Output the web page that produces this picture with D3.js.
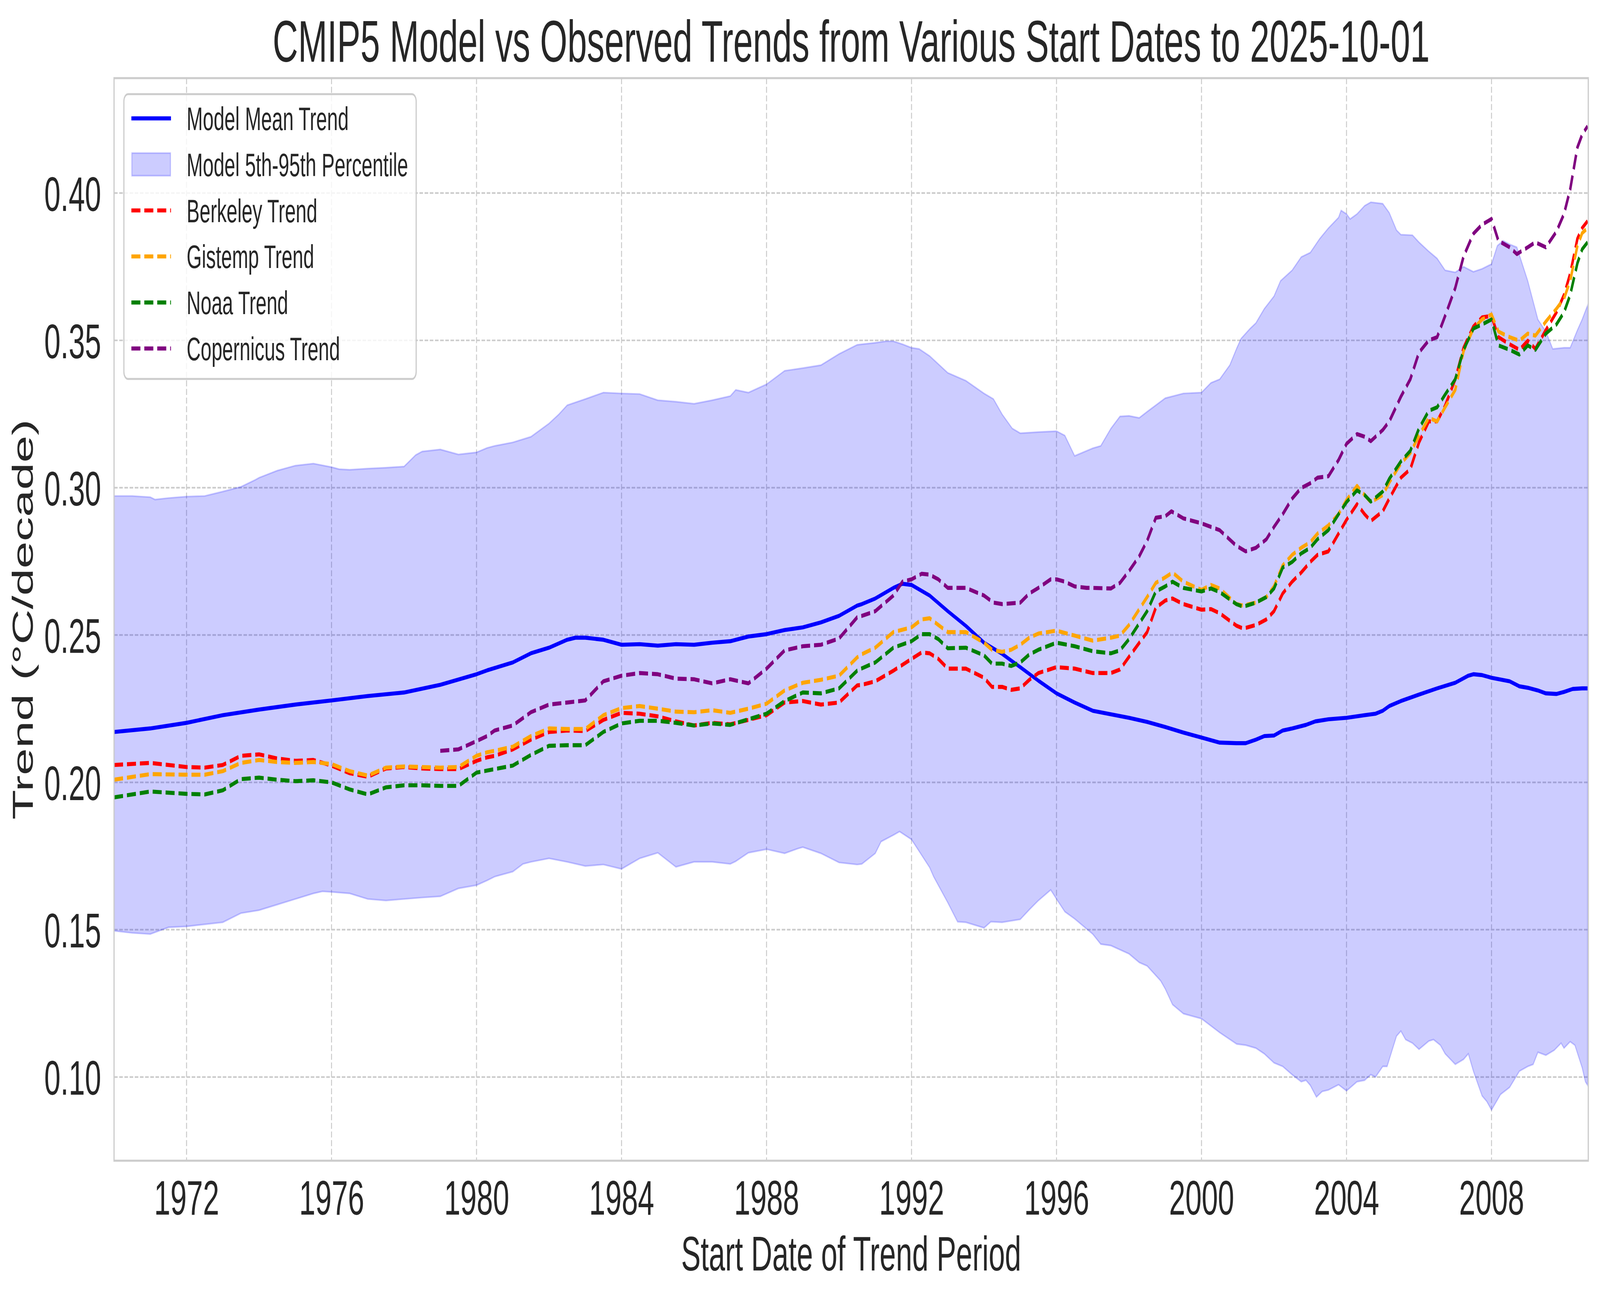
<!DOCTYPE html>
<html>
<head>
<meta charset="utf-8">
<script src="https://cdn.jsdelivr.net/npm/d3@7"></script>
<style>
  html, body { margin: 0; padding: 0; background: #ffffff; overflow: hidden; }
  svg { display: block; width: 100vw; height: 100vh; }
  text { font-family: "Liberation Sans", Arial, sans-serif; fill: #262626; }
</style>
</head>
<body>
<div id="chart"></div>
<script>
// Trend values (degC / decade)

// shared start dates for Berkeley, Gistemp and Noaa
var obsYears = [
  1970.00, 1971.00, 1972.00, 1972.50, 1973.00, 1973.50, 1974.00, 1974.50, 1975.00, 1975.50,
  1976.00, 1976.50, 1977.00, 1977.50, 1978.00, 1978.50, 1979.00, 1979.50, 1980.00, 1980.29,
  1980.50, 1981.00, 1981.50, 1982.00, 1982.50, 1983.00, 1983.50, 1984.00, 1984.50, 1985.00,
  1985.50, 1986.00, 1986.50, 1987.00, 1987.50, 1988.00, 1988.50, 1989.00, 1989.50, 1990.00,
  1990.50,
  1990.63, 1991.00, 1991.50, 1992.00, 1992.28, 1992.50, 1992.74, 1993.00, 1993.50, 1994.00,
  1994.22, 1994.50, 1994.75, 1995.00, 1995.25, 1995.50, 1996.00, 1996.50, 1997.00, 1997.50,
  1997.75, 1998.00, 1998.50, 1998.74, 1999.00, 1999.20, 1999.50, 2000.00, 2000.26, 2000.50,
  2000.96, 2001.15, 2001.50, 2001.79, 2002.00, 2002.24, 2002.50, 2002.75, 2003.00, 2003.20,
  2003.50, 2003.78, 2004.00, 2004.29, 2004.50, 2004.67, 2005.00, 2005.18, 2005.50, 2005.76,
  2006.00, 2006.27, 2006.50, 2006.72, 2007.00, 2007.23, 2007.50, 2007.74, 2008.00, 2008.19,
  2008.50, 2008.77, 2009.00, 2009.21, 2009.50, 2009.79, 2010.00, 2010.17, 2010.37, 2010.50,
  2010.65
];

var berkeleyTrend = [
  0.2059, 0.2066, 0.2052, 0.2050, 0.2059, 0.2090, 0.2095, 0.2081, 0.2073, 0.2076,
  0.2057, 0.2031, 0.2019, 0.2047, 0.2052, 0.2047, 0.2045, 0.2045, 0.2073, 0.2085,
  0.2090, 0.2112, 0.2145, 0.2171, 0.2176, 0.2174, 0.2212, 0.2236, 0.2233, 0.2224,
  0.2207, 0.2193, 0.2202, 0.2197, 0.2212, 0.2228, 0.2271, 0.2276, 0.2264, 0.2271,
  0.2329,
  0.2331, 0.2343, 0.2379, 0.2419, 0.2441, 0.2438, 0.2419, 0.2386, 0.2386, 0.2355,
  0.2324, 0.2324, 0.2314, 0.2319, 0.2348, 0.2371, 0.2391, 0.2386, 0.2371, 0.2371,
  0.2383, 0.2426, 0.2510, 0.2593, 0.2617, 0.2624, 0.2605, 0.2586, 0.2588, 0.2574,
  0.2532, 0.2522, 0.2534, 0.2553, 0.2581, 0.2641, 0.2681, 0.2712, 0.2748, 0.2772,
  0.2784, 0.2844, 0.2891, 0.2944, 0.2910, 0.2887, 0.2920, 0.2963, 0.3034, 0.3063,
  0.3154, 0.3225, 0.3225, 0.3278, 0.3368, 0.3475, 0.3547, 0.3578, 0.3583, 0.3511,
  0.3487, 0.3468, 0.3499, 0.3471, 0.3535, 0.3595, 0.3654, 0.3726, 0.3845, 0.3881,
  0.3905
];

var gistempTrend = [
  0.2009, 0.2028, 0.2026, 0.2026, 0.2038, 0.2066, 0.2076, 0.2069, 0.2066, 0.2069,
  0.2062, 0.2038, 0.2023, 0.2050, 0.2054, 0.2052, 0.2050, 0.2052, 0.2090, 0.2102,
  0.2107, 0.2121, 0.2157, 0.2183, 0.2181, 0.2181, 0.2228, 0.2252, 0.2259, 0.2250,
  0.2240, 0.2238, 0.2245, 0.2236, 0.2250, 0.2267, 0.2312, 0.2338, 0.2348, 0.2362,
  0.2424,
  0.2435, 0.2457, 0.2510, 0.2526, 0.2553, 0.2557, 0.2534, 0.2510, 0.2510, 0.2474,
  0.2450, 0.2443, 0.2450, 0.2467, 0.2491, 0.2505, 0.2515, 0.2498, 0.2481, 0.2491,
  0.2498, 0.2534, 0.2629, 0.2677, 0.2696, 0.2712, 0.2681, 0.2653, 0.2670, 0.2658,
  0.2605, 0.2600, 0.2610, 0.2629, 0.2665, 0.2736, 0.2772, 0.2796, 0.2815, 0.2844,
  0.2872, 0.2910, 0.2958, 0.3006, 0.2975, 0.2951, 0.2975, 0.3018, 0.3082, 0.3118,
  0.3177, 0.3237, 0.3225, 0.3273, 0.3332, 0.3464, 0.3540, 0.3571, 0.3588, 0.3530,
  0.3511, 0.3499, 0.3523, 0.3516, 0.3564, 0.3607, 0.3642, 0.3702, 0.3821, 0.3864,
  0.3881
];

var noaaTrend = [
  0.1949, 0.1969, 0.1961, 0.1959, 0.1973, 0.2011, 0.2016, 0.2009, 0.2004, 0.2007,
  0.2000, 0.1976, 0.1959, 0.1983, 0.1990, 0.1990, 0.1988, 0.1988, 0.2033, 0.2040,
  0.2045, 0.2057, 0.2093, 0.2124, 0.2126, 0.2126, 0.2171, 0.2200, 0.2209, 0.2209,
  0.2202, 0.2193, 0.2200, 0.2195, 0.2214, 0.2233, 0.2276, 0.2305, 0.2302, 0.2319,
  0.2379,
  0.2387, 0.2407, 0.2457, 0.2479, 0.2503, 0.2503, 0.2486, 0.2455, 0.2457, 0.2431,
  0.2403, 0.2403, 0.2395, 0.2407, 0.2434, 0.2450, 0.2474, 0.2462, 0.2445, 0.2438,
  0.2448, 0.2486, 0.2581, 0.2648, 0.2665, 0.2681, 0.2660, 0.2648, 0.2658, 0.2646,
  0.2605, 0.2596, 0.2610, 0.2629, 0.2658, 0.2729, 0.2748, 0.2777, 0.2796, 0.2825,
  0.2856, 0.2910, 0.2951, 0.2991, 0.2975, 0.2953, 0.2987, 0.3030, 0.3089, 0.3125,
  0.3201, 0.3261, 0.3273, 0.3316, 0.3368, 0.3468, 0.3540, 0.3554, 0.3571, 0.3483,
  0.3468, 0.3452, 0.3483, 0.3468, 0.3523, 0.3554, 0.3595, 0.3654, 0.3762, 0.3809,
  0.3833
];

// Copernicus only starts in 1979
var copernicusYears = [
  1979.00, 1979.50, 1980.00, 1980.29, 1980.50, 1981.00, 1981.50, 1982.00, 1982.50, 1983.00,
  1983.50, 1984.00, 1984.50, 1985.00, 1985.50, 1986.00, 1986.50, 1987.00, 1987.50, 1988.00,
  1988.50, 1989.00, 1989.50, 1990.00, 1990.50, 1990.63,
  1991.00, 1991.50, 1991.75, 1992.00, 1992.28, 1992.50, 1992.74, 1993.00, 1993.50, 1994.00,
  1994.26, 1994.50, 1995.00, 1995.25, 1995.50, 1995.84, 1996.00, 1996.23, 1996.50, 1996.83,
  1997.00, 1997.50, 1997.75, 1998.00, 1998.28, 1998.50, 1998.74, 1999.00, 1999.17, 1999.50,
  2000.00, 2000.26, 2000.50, 2000.96,
  2001.22, 2001.50, 2001.79, 2002.00, 2002.24, 2002.50, 2002.75, 2003.00, 2003.20, 2003.50,
  2003.78, 2004.00, 2004.29, 2004.50, 2004.67, 2005.00, 2005.18, 2005.50, 2005.76, 2006.00,
  2006.27, 2006.50, 2006.72, 2007.00, 2007.23, 2007.50, 2007.74, 2008.00, 2008.19, 2008.50,
  2008.70, 2009.00, 2009.21, 2009.50, 2009.79, 2010.00, 2010.17, 2010.37, 2010.50, 2010.65
];
var copernicusTrend = [
  0.2107, 0.2112, 0.2140, 0.2157, 0.2176, 0.2193, 0.2238, 0.2264, 0.2271, 0.2278,
  0.2343, 0.2362, 0.2371, 0.2367, 0.2352, 0.2350, 0.2336, 0.2350, 0.2336, 0.2386,
  0.2448, 0.2462, 0.2467, 0.2488, 0.2560, 0.2565,
  0.2581, 0.2634, 0.2681, 0.2689, 0.2708, 0.2705, 0.2689, 0.2660, 0.2660, 0.2634,
  0.2610, 0.2605, 0.2610, 0.2641, 0.2660, 0.2689, 0.2689, 0.2681, 0.2665, 0.2660,
  0.2660, 0.2658, 0.2677, 0.2717, 0.2767, 0.2820, 0.2898, 0.2903, 0.2920, 0.2896,
  0.2879, 0.2867, 0.2856, 0.2803,
  0.2784, 0.2796, 0.2825, 0.2867, 0.2910, 0.2963, 0.2999, 0.3015, 0.3034, 0.3039,
  0.3094, 0.3149, 0.3182, 0.3173, 0.3158, 0.3196, 0.3225, 0.3309, 0.3368, 0.3459,
  0.3500, 0.3511, 0.3583, 0.3678, 0.3785, 0.3862, 0.3893, 0.3912, 0.3838, 0.3816,
  0.3793, 0.3816, 0.3833, 0.3816, 0.3869, 0.3929, 0.4012, 0.4155, 0.4198, 0.4227
];

// CMIP5 multi-model mean
var meanYears = [
  1970.00, 1971.00, 1972.00, 1973.00, 1974.00, 1975.00, 1976.00, 1977.00, 1978.00, 1979.00,
  1980.00, 1980.29, 1980.50, 1981.00, 1981.50, 1982.00, 1982.50, 1982.73, 1983.00, 1983.50,
  1984.00, 1984.50, 1985.00, 1985.50, 1986.00, 1986.50, 1987.00, 1987.50, 1988.00, 1988.50,
  1989.00, 1989.50, 1990.00, 1990.50, 1990.63,
  1991.00, 1991.50, 1991.75, 1992.00, 1992.50, 1993.00, 1993.50, 1994.00, 1994.50, 1995.00,
  1995.50, 1996.00, 1996.50, 1997.00, 1997.50, 1998.00, 1998.50, 1999.00, 1999.50, 2000.00,
  2000.50, 2000.96,
  2001.22, 2001.50, 2001.73, 2002.00, 2002.24, 2002.50, 2002.88, 2003.14, 2003.50, 2004.00,
  2004.50, 2004.80, 2005.00, 2005.18, 2005.50, 2006.00, 2006.50, 2007.00, 2007.36, 2007.50,
  2007.74, 2008.00, 2008.50, 2008.77, 2009.00, 2009.28, 2009.50, 2009.79, 2010.00, 2010.24,
  2010.50, 2010.65
];
var meanTrend = [
  0.2171, 0.2183, 0.2202, 0.2228, 0.2247, 0.2264, 0.2278, 0.2293, 0.2305, 0.2331,
  0.2367, 0.2380, 0.2388, 0.2407, 0.2438, 0.2457, 0.2484, 0.2491, 0.2491, 0.2484,
  0.2467, 0.2469, 0.2464, 0.2469, 0.2467, 0.2474, 0.2479, 0.2495, 0.2503, 0.2517,
  0.2526, 0.2543, 0.2565, 0.2600, 0.2605,
  0.2624, 0.2660, 0.2674, 0.2670, 0.2634, 0.2581, 0.2531, 0.2474, 0.2436, 0.2391,
  0.2345, 0.2302, 0.2271, 0.2243, 0.2231, 0.2219, 0.2205, 0.2188, 0.2169, 0.2152,
  0.2135, 0.2133,
  0.2133, 0.2145, 0.2157, 0.2159, 0.2176, 0.2183, 0.2195, 0.2207, 0.2214, 0.2219,
  0.2228, 0.2233, 0.2243, 0.2259, 0.2276, 0.2298, 0.2319, 0.2338, 0.2362, 0.2367,
  0.2364, 0.2355, 0.2343, 0.2326, 0.2321, 0.2312, 0.2302, 0.2300, 0.2307, 0.2317,
  0.2319, 0.2319
];

// 95th percentile of the model ensemble
var p95Years = [
  1970.00, 1970.50, 1971.00, 1971.13, 1971.50, 1972.00, 1972.50, 1973.00, 1973.50, 1973.90,
  1974.00, 1974.50, 1975.00, 1975.50, 1976.00, 1976.21, 1976.50, 1977.00, 1977.50, 1978.00,
  1978.32, 1978.50, 1979.00, 1979.50, 1980.00, 1980.29,
  1980.50, 1981.00, 1981.50, 1982.00, 1982.27, 1982.50, 1983.00, 1983.50, 1984.00, 1984.50,
  1985.00, 1985.50, 1986.00, 1986.50, 1987.00, 1987.15, 1987.50, 1988.00, 1988.50, 1989.00,
  1989.50, 1990.00, 1990.50, 1990.63,
  1991.00, 1991.29, 1991.50, 1991.75, 1992.00, 1992.21, 1992.50, 1993.00, 1993.50, 1994.00,
  1994.26, 1994.50, 1994.78, 1995.00, 1995.50, 1996.00, 1996.23, 1996.50, 1997.00, 1997.22,
  1997.50, 1997.75, 1998.00, 1998.28, 1998.50, 1999.00, 1999.50, 2000.00, 2000.26, 2000.50,
  2000.78, 2000.97,
  2001.09, 2001.34, 2001.50, 2001.73, 2002.00, 2002.18, 2002.50, 2002.75, 2003.00, 2003.26,
  2003.50, 2003.78, 2003.85, 2004.00, 2004.10, 2004.29, 2004.50, 2004.67, 2005.00, 2005.18,
  2005.38, 2005.50, 2005.82, 2006.00, 2006.27, 2006.50, 2006.72, 2007.00, 2007.23, 2007.50,
  2007.74, 2008.00, 2008.16, 2008.32, 2008.50, 2008.70, 2009.00, 2009.28, 2009.50, 2009.69,
  2010.00, 2010.17, 2010.37, 2010.50, 2010.65
];
var p95Trend = [
  0.2972, 0.2972, 0.2968, 0.2960, 0.2965, 0.2970, 0.2972, 0.2987, 0.3003, 0.3027,
  0.3034, 0.3058, 0.3075, 0.3082, 0.3070, 0.3063, 0.3061, 0.3065, 0.3068, 0.3072,
  0.3111, 0.3123, 0.3130, 0.3113, 0.3120, 0.3135,
  0.3142, 0.3154, 0.3173, 0.3218, 0.3249, 0.3280, 0.3301, 0.3323, 0.3320, 0.3318,
  0.3297, 0.3292, 0.3285, 0.3297, 0.3311, 0.3332, 0.3323, 0.3351, 0.3397, 0.3406,
  0.3416, 0.3454, 0.3485, 0.3487,
  0.3492, 0.3497, 0.3497, 0.3487, 0.3475, 0.3471, 0.3447, 0.3390, 0.3363, 0.3320,
  0.3301, 0.3249, 0.3201, 0.3185, 0.3189, 0.3192, 0.3177, 0.3108, 0.3134, 0.3142,
  0.3201, 0.3242, 0.3244, 0.3237, 0.3258, 0.3304, 0.3320, 0.3323, 0.3356, 0.3368,
  0.3416, 0.3473,
  0.3506, 0.3540, 0.3559, 0.3607, 0.3650, 0.3702, 0.3738, 0.3783, 0.3798, 0.3845,
  0.3881, 0.3917, 0.3941, 0.3929, 0.3912, 0.3929, 0.3957, 0.3969, 0.3964, 0.3933,
  0.3874, 0.3859, 0.3857, 0.3833, 0.3802, 0.3778, 0.3738, 0.3731, 0.3750, 0.3733,
  0.3743, 0.3759, 0.3821, 0.3838, 0.3826, 0.3816, 0.3702, 0.3571, 0.3530, 0.3471,
  0.3475, 0.3475, 0.3535, 0.3571, 0.3619
];

// 5th percentile of the model ensemble
var p5Years = [
  1970.00, 1970.50, 1971.00, 1971.50, 1972.00, 1972.50, 1973.00, 1973.50, 1974.00, 1974.50,
  1975.00, 1975.50, 1975.75, 1976.00, 1976.50, 1977.00, 1977.50, 1978.00, 1978.50, 1979.00,
  1979.50, 1980.00, 1980.29,
  1980.50, 1981.00, 1981.28, 1981.50, 1982.00, 1982.50, 1983.00, 1983.50, 1984.00, 1984.50,
  1985.00, 1985.50, 1986.00, 1986.50, 1987.00, 1987.15, 1987.50, 1988.00, 1988.50, 1988.86,
  1989.00, 1989.50, 1990.00, 1990.50, 1990.63,
  1991.00, 1991.16, 1991.50, 1991.67, 1992.00, 1992.50, 1992.61, 1993.00, 1993.27, 1993.50,
  1994.00, 1994.19, 1994.50, 1995.00, 1995.25, 1995.50, 1995.84, 1996.00, 1996.23, 1996.50,
  1997.00, 1997.22, 1997.50, 1998.00, 1998.28, 1998.50, 1998.87, 1999.00, 1999.20, 1999.50,
  2000.00, 2000.50, 2000.97,
  2001.22, 2001.50, 2001.73, 2002.00, 2002.24, 2002.50, 2002.75, 2002.88, 2003.00, 2003.17,
  2003.33, 2003.50, 2003.78, 2004.00, 2004.29, 2004.50, 2004.67, 2004.80, 2005.00, 2005.12,
  2005.38, 2005.50, 2005.63, 2005.82, 2006.00, 2006.27, 2006.40, 2006.59, 2006.72, 2007.00,
  2007.23, 2007.36, 2007.50, 2007.74, 2007.87, 2008.00, 2008.25, 2008.50, 2008.77, 2009.00,
  2009.15, 2009.28, 2009.50, 2009.73, 2009.92, 2010.00, 2010.17, 2010.30, 2010.50, 2010.59,
  2010.65
];
var p5Trend = [
  0.1496, 0.1489, 0.1485, 0.1508, 0.1511, 0.1518, 0.1525, 0.1556, 0.1566, 0.1585,
  0.1604, 0.1623, 0.1630, 0.1628, 0.1623, 0.1604, 0.1599, 0.1604, 0.1609, 0.1613,
  0.1640, 0.1651, 0.1667,
  0.1680, 0.1697, 0.1723, 0.1730, 0.1742, 0.1730, 0.1716, 0.1721, 0.1706, 0.1742,
  0.1761, 0.1713, 0.1730, 0.1730, 0.1723, 0.1732, 0.1761, 0.1773, 0.1759, 0.1775,
  0.1780, 0.1759, 0.1728, 0.1721, 0.1723,
  0.1759, 0.1799, 0.1821, 0.1833, 0.1806, 0.1711, 0.1680, 0.1592, 0.1527, 0.1525,
  0.1506, 0.1527, 0.1525, 0.1535, 0.1568, 0.1599, 0.1635, 0.1604, 0.1561, 0.1537,
  0.1485, 0.1451, 0.1446, 0.1418, 0.1389, 0.1377, 0.1327, 0.1299, 0.1246, 0.1215,
  0.1198, 0.1151, 0.1112,
  0.1108, 0.1098, 0.1079, 0.1048, 0.1036, 0.1008, 0.0984, 0.0989, 0.0972, 0.0932,
  0.0951, 0.0956, 0.0974, 0.0953, 0.0984, 0.0989, 0.1008, 0.1000, 0.1036, 0.1036,
  0.1139, 0.1156, 0.1127, 0.1115, 0.1094, 0.1122, 0.1127, 0.1108, 0.1079, 0.1043,
  0.1060, 0.1079, 0.1020, 0.0936, 0.0917, 0.0888, 0.0941, 0.0965, 0.1020, 0.1036,
  0.1043, 0.1084, 0.1074, 0.1091, 0.1115, 0.1098, 0.1120, 0.1108, 0.1032, 0.0984,
  0.0972
];

var xTicks = [1972, 1976, 1980, 1984, 1988, 1992, 1996, 2000, 2004, 2008];
var yTicks = [0.10, 0.15, 0.20, 0.25, 0.30, 0.35, 0.40];
var legendLabels = ["Model Mean Trend", "Model 5th-95th Percentile", "Berkeley Trend",
  "Gistemp Trend", "Noaa Trend", "Copernicus Trend"];

// Define SVG area dimensions (drawing units = reference pixels)
var svgWidth = 6832;
var svgHeight = 3325;

var margin = { top: 200, right: 50, bottom: 354, left: 487 };
var chartWidth = svgWidth - margin.left - margin.right;
var chartHeight = svgHeight - margin.top - margin.bottom;

// the drawing is stretched onto the whole browser window
var svg = d3.select("#chart")
  .append("svg")
  .attr("viewBox", "0 0 " + svgWidth + " " + svgHeight)
  .attr("preserveAspectRatio", "none");

var chartGroup = svg.append("g")
  .attr("transform", "translate(" + margin.left + "," + margin.top + ")");

var xScale = d3.scaleLinear().domain([1970.0, 2010.67]).range([0, chartWidth]);
var yScale = d3.scaleLinear().domain([0.0716, 0.439]).range([chartHeight, 0]);

// grid (drawn under everything)
var gridDash = "15.4,6.7";
chartGroup.selectAll(".vgrid")
  .data(xTicks)
  .enter()
  .append("line")
  .attr("x1", function(d) { return xScale(d); })
  .attr("x2", function(d) { return xScale(d); })
  .attr("y1", 0)
  .attr("y2", chartHeight)
  .attr("stroke", "#cccccc")
  .attr("stroke-width", 4.2)
  .attr("stroke-dasharray", gridDash);
chartGroup.selectAll(".hgrid")
  .data(yTicks)
  .enter()
  .append("line")
  .attr("x1", 0)
  .attr("x2", chartWidth)
  .attr("y1", function(d) { return yScale(d); })
  .attr("y2", function(d) { return yScale(d); })
  .attr("stroke", "#cccccc")
  .attr("stroke-width", 4.2)
  .attr("stroke-dasharray", gridDash);

chartGroup.append("clipPath").attr("id", "plotClip")
  .append("rect").attr("width", chartWidth).attr("height", chartHeight);

var plot = chartGroup.append("g").attr("clip-path", "url(#plotClip)");

var line = d3.line()
  .x(function(d) { return xScale(d[0]); })
  .y(function(d) { return yScale(d[1]); });

function pairs(xs, ys) {
  return xs.map(function(x, i) { return [x, ys[i]]; });
}

// model mean
plot.append("path")
  .attr("d", line(pairs(meanYears, meanTrend)))
  .attr("fill", "none")
  .attr("stroke", "blue")
  .attr("stroke-width", 10.4)
  .attr("stroke-linejoin", "round");

// 5th-95th percentile band
var bandPoints = pairs(p95Years, p95Trend).concat(pairs(p5Years, p5Trend).reverse());
plot.append("path")
  .attr("d", line(bandPoints) + "Z")
  .attr("fill", "rgba(0,0,255,0.2)")
  .attr("stroke", "rgba(0,0,255,0.2)")
  .attr("stroke-width", 4.2);

var obsSeries = [
  { years: obsYears, values: berkeleyTrend, color: "red" },
  { years: obsYears, values: gistempTrend, color: "orange" },
  { years: obsYears, values: noaaTrend, color: "green" },
  { years: copernicusYears, values: copernicusTrend, color: "purple" }
];
var lineDash = "38.5,16.7";

obsSeries.forEach(function(s) {
  plot.append("path")
    .attr("d", line(pairs(s.years, s.values)))
    .attr("fill", "none")
    .attr("stroke", s.color)
    .attr("stroke-width", 10.4)
    .attr("stroke-dasharray", lineDash)
    .attr("stroke-linejoin", "round");
});

// spines
chartGroup.append("rect")
  .attr("width", chartWidth)
  .attr("height", chartHeight)
  .attr("fill", "none")
  .attr("stroke", "#cccccc")
  .attr("stroke-width", 5.2);

// tick labels (seaborn whitegrid, no tick marks)
var bottomAxis = d3.axisBottom(xScale).tickValues(xTicks).tickFormat(d3.format("d")).tickSize(0).tickPadding(0);
var leftAxis = d3.axisLeft(yScale).tickValues(yTicks).tickFormat(d3.format(".2f")).tickSize(0).tickPadding(0);

var xAxisG = chartGroup.append("g")
  .attr("transform", "translate(0," + chartHeight + ")")
  .call(bottomAxis);
xAxisG.select(".domain").remove();
xAxisG.selectAll("text")
  .attr("y", 138)
  .attr("dy", null)
  .style("font-size", "125px")
  .style("font-family", "'Liberation Sans', Arial, sans-serif")
  .attr("fill", "#262626");

var yAxisG = chartGroup.append("g").call(leftAxis);
yAxisG.select(".domain").remove();
yAxisG.selectAll("text")
  .attr("x", -55)
  .attr("dy", "0.36em")
  .style("font-size", "125px")
  .style("font-family", "'Liberation Sans', Arial, sans-serif")
  .attr("fill", "#262626");

// title and axis titles
svg.append("text")
  .attr("x", margin.left + chartWidth / 2)
  .attr("y", 158)
  .attr("text-anchor", "middle")
  .style("font-size", "150px")
  .text("CMIP5 Model vs Observed Trends from Various Start Dates to 2025-10-01");

svg.append("text")
  .attr("x", margin.left + chartWidth / 2)
  .attr("y", 3252)
  .attr("text-anchor", "middle")
  .style("font-size", "125px")
  .text("Start Date of Trend Period");

svg.append("text")
  .attr("transform", "translate(140," + (margin.top + chartHeight / 2) + ") rotate(-90)")
  .attr("text-anchor", "middle")
  .style("font-size", "125px")
  .text("Trend (°C/decade)");

// legend
var legend = svg.append("g");
legend.append("rect")
  .attr("x", 529).attr("y", 241)
  .attr("width", 1248).attr("height", 729)
  .attr("rx", 18).attr("ry", 18)
  .attr("fill", "rgba(255,255,255,0.8)")
  .attr("stroke", "#cccccc")
  .attr("stroke-width", 5);

var rowY = d3.scaleLinear().domain([0, 5]).range([303, 892]);
var legendStyles = [
  { kind: "line", color: "blue", dash: null },
  { kind: "patch" },
  { kind: "line", color: "red", dash: lineDash },
  { kind: "line", color: "orange", dash: lineDash },
  { kind: "line", color: "green", dash: lineDash },
  { kind: "line", color: "purple", dash: lineDash }
];

legendLabels.forEach(function(label, i) {
  var cy = rowY(i);
  var st = legendStyles[i];
  if (st.kind === "patch") {
    legend.append("rect")
      .attr("x", 563).attr("y", cy - 29)
      .attr("width", 165).attr("height", 58)
      .attr("fill", "rgba(0,0,255,0.2)")
      .attr("stroke", "rgba(0,0,255,0.2)")
      .attr("stroke-width", 4.2);
  } else {
    legend.append("line")
      .attr("x1", 561).attr("x2", 730)
      .attr("y1", cy).attr("y2", cy)
      .attr("stroke", st.color)
      .attr("stroke-width", 10.4)
      .attr("stroke-dasharray", st.dash);
  }
  legend.append("text")
    .attr("x", 797)
    .attr("y", cy + 30)
    .style("font-size", "83px")
    .text(label);
});
</script>
</body>
</html>
